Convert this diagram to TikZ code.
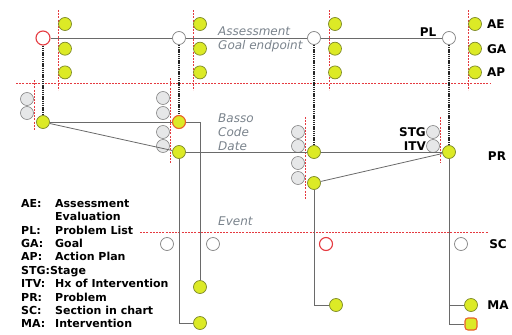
\documentclass[tikz,border=0pt]{standalone}
\usepackage{fontspec}
\setmainfont{DejaVu Sans}
\usepackage{xcolor}
\usepackage{tikz}
\usetikzlibrary{positioning}
\definecolor{ylw}{HTML}{DCEA26}
\definecolor{ylwedge}{HTML}{7E8A2A}
\definecolor{greyfill}{HTML}{E6E7E8}
\definecolor{greyedge}{HTML}{858585}
\definecolor{wiregrey}{HTML}{6A6A6A}
\definecolor{rulered}{HTML}{E53A40}
\definecolor{markorange}{HTML}{E8612A}
\definecolor{notegrey}{HTML}{7A838C}
\tikzset{
	yel/.style={circle, draw=ylwedge, fill=ylw, line width=0.7pt,
			minimum size=13pt, inner sep=0pt},
	yelmark/.style={yel, draw=markorange, line width=1.1pt},
	stg/.style={circle, draw=greyedge, fill=greyfill, line width=0.6pt,
			minimum size=13pt, inner sep=0pt},
	hollow/.style={circle, draw=greyedge, fill=white, line width=0.7pt,
			minimum size=13pt, inner sep=0pt},
	redo/.style={hollow, draw=rulered, line width=1.1pt, minimum size=14pt},
	sqmark/.style={rectangle, rounded corners=3pt, draw=markorange,
			fill=ylw, line width=1.1pt, minimum size=12pt, inner sep=0pt},
	wire/.style={draw=wiregrey, line width=0.8pt},
	link/.style={draw=black!85, line width=1.2pt, dash pattern=on 1.4pt off 0.8pt},
	rule/.style={draw=rulered, line width=0.7pt, dash pattern=on 2pt off 1.2pt},
	tag/.style={font=\bfseries\fontsize{12}{14}\selectfont, inner sep=0pt},
	key/.style={font=\bfseries\fontsize{11}{13.4}\selectfont, inner sep=0pt},
	note/.style={font=\itshape\fontsize{12}{14}\selectfont, text=notegrey,
			anchor=west, inner sep=0pt}
}

\begin{document}
\begin{tikzpicture}[x=1pt, y=-1pt]
		\useasboundingbox (0,0) rectangle (512,335);

		% Red section rules
		\draw[rule] (16,83) -- (490,83);
		\draw[rule] (140,232) -- (488,232);
		\draw[rule] (58,10) -- (58,90);
		\draw[rule] (193,10) -- (193,90);
		\draw[rule] (329,10) -- (329,90);
		\draw[rule] (468,10) -- (468,90);
		\draw[rule] (34,80) -- (34,130);
		\draw[rule] (170,78) -- (170,163);
		\draw[rule] (305,117) -- (305,200);
		\draw[rule] (440,117) -- (440,163);

		% Problem list row
		\node[redo] (plbeg) at (43,38) {};
		\node[hollow] (pla) at (179,38) {};
		\node[hollow] (plb) at (314,38) {};
		\node[hollow] (pl) at (449,38) {};
		\node[tag] (pltxt) at (428,32) {PL};

		% AE / GA / AP stacks
		\node[yel] (ae1) at (65,24) {};
		\node[yel, below=11pt of ae1] (ga1) {};
		\node[yel, below=10pt of ga1] (ap1) {};
		\node[yel] (ae2) at (200,24) {};
		\node[yel, below=11pt of ae2] (ga2) {};
		\node[yel, below=10pt of ga2] (ap2) {};
		\node[yel] (ae3) at (335,24) {};
		\node[yel, below=11pt of ae3] (ga3) {};
		\node[yel, below=10pt of ga3] (ap3) {};
		\node[yel] (ae4) at (475,24) {};
		\node[yel, below=11pt of ae4] (ga4) {};
		\node[yel, below=10pt of ga4] (ap4) {};
		\node[tag, anchor=west, right=5pt of ae4] (aetxt) {AE};
		\node[tag, anchor=west, right=5pt of ga4] (gatxt) {GA};
		\node[tag, anchor=west, right=5pt of ap4] (aptxt) {AP};

		% Problem row with stage / intervention stacks
		\node[stg] (sa1) at (27,99) {};
		\node[stg] (sa2) at (27,113) {};
		\node[yel] (pra) at (43,122) {};

		\node[stg] (sb1) at (163,98) {};
		\node[stg] (sb2) at (163,113) {};
		\node[stg] (sb3) at (163,132) {};
		\node[stg] (sb4) at (163,146) {};
		\node[yelmark] (prb) at (179,122) {};
		\node[yel] (prc) at (179,152) {};

		\node[stg] (sc1) at (298,132) {};
		\node[stg] (sc2) at (298,146) {};
		\node[stg] (sc3) at (298,163) {};
		\node[stg] (sc4) at (298,178) {};
		\node[yel] (prd) at (314,152) {};
		\node[yel] (pre) at (314,183) {};

		\node[stg] (sd1) at (433,132) {};
		\node[stg] (sd2) at (433,146) {};
		\node[yel] (prf) at (449,152) {};
		\node[tag, anchor=east] (stgtxt) at (426,132) {STG};
		\node[tag, anchor=east] (itvtxt) at (426,146) {ITV};
		\node[tag] (prtxt) at (497,156) {PR};

		% Section row
		\node[hollow] (sec1) at (167,244) {};
		\node[hollow] (sec2) at (213,244) {};
		\node[redo, minimum size=13pt] (sec3) at (326,244) {};
		\node[hollow] (sec4) at (461,244) {};
		\node[tag] (sctxt) at (498,244) {SC};

		% Interventions
		\node[yel] (ma1) at (200,287) {};
		\node[yel] (ma2) at (200,323) {};
		\node[yel] (ma3) at (336,305) {};
		\node[yel] (ma4) at (471,305) {};
		\node[sqmark] (ma5) at (471,324) {};
		\node[tag] (matxt) at (498,305) {MA};

		% Grey annotations
		\node[note] (asstxt) at (218,31) {Assessment};
		\node[note] (goaltxt) at (218,46) {Goal endpoint};
		\node[note] (bassotxt) at (218,118) {Basso};
		\node[note] (codetxt) at (218,132) {Code};
		\node[note] (datetxt) at (218,146) {Date};
		\node[note] (eventtxt) at (218,221) {Event};

		% Legend
		\node[key, align=left, anchor=north west] (legend) at (21,199) {%
			\makebox[34pt][l]{AE:}Assessment\\
			\makebox[34pt][l]{}Evaluation\\
			\makebox[34pt][l]{PL:}Problem List\\
			\makebox[34pt][l]{GA:}Goal\\
			\makebox[34pt][l]{AP:}Action Plan\\
			STG:Stage\\
			\makebox[34pt][l]{ITV:}Hx of Intervention\\
			\makebox[34pt][l]{PR:}Problem\\
			\makebox[34pt][l]{SC:}Section in chart\\
			\makebox[34pt][l]{MA:}Intervention};

		% Connectors
		\draw[wire] (plbeg) -- (pla) -- (plb) -- (pl);
		\draw[link] (plbeg) -- (pra);
		\draw[link] (pla) -- (prb);
		\draw[link] (plb) -- (prd);
		\draw[link] (pl) -- (prf);

		\draw[wire] (pra) -- (prb);
		\draw[wire] (pra) -- (prc);
		\draw[wire] (prb) -| (ma1);
		\draw[wire] (prc) |- (ma2);
		\draw[wire] (prc) -- (prd) -- (prf);
		\draw[wire] (pre) -- (prf);
		\draw[wire] (pre) |- (ma3);
		\draw[wire] (prf) |- (ma4);
		\draw[wire] (prf) |- (ma5);
	\end{tikzpicture}
\end{document}
